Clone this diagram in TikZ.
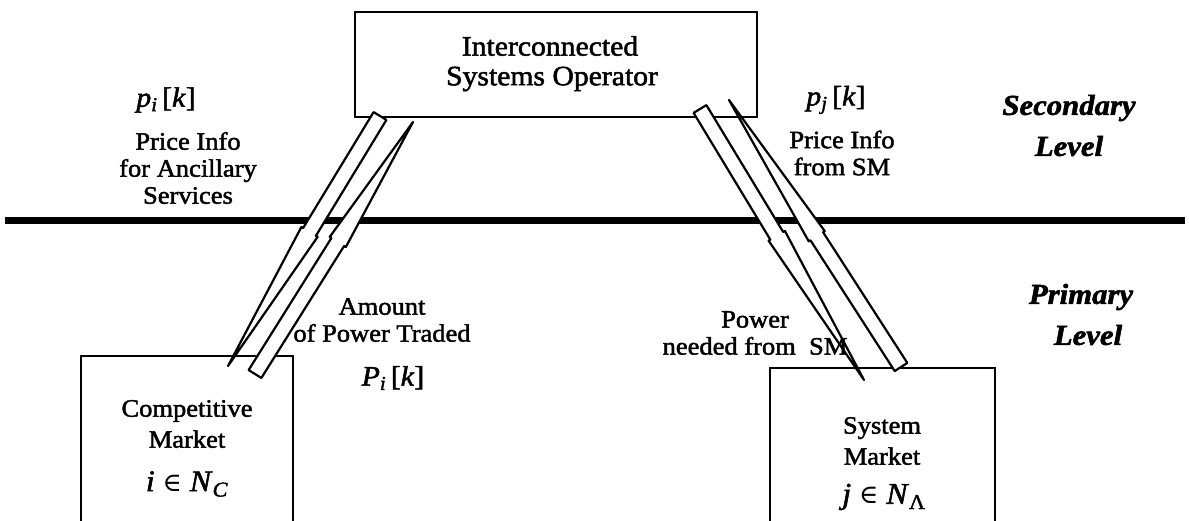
\documentclass[tikz,border=0pt]{standalone}
\usepackage{fontspec}
\setmainfont{Liberation Serif}[FakeStretch=1.06, FakeBold=1.8]
\newfontfamily\symfnt{DejaVu Serif}
\usetikzlibrary{calc}
\tikzset{
  box/.style={draw=black, line width=2pt},
  lbl/.style={inner sep=0pt, align=center, font=\fontsize{25}{27}\selectfont},
  isotxt/.style={inner sep=0pt, align=center, font=\fontsize{28}{33}\selectfont},
  lvl/.style={inner sep=0pt, align=center, font=\fontsize{29}{38}\selectfont\bfseries\itshape},
  mathlbl/.style={inner sep=0pt, font=\fontsize{28}{30}\selectfont},
  bigarr/.style={draw=black, fill=white, line width=2.2pt, line join=round},
  level line/.style={line width=7pt, draw=black}
}
\newcommand{\hollowarrow}[3]{%
  \coordinate (#1#2m) at ($(#1)!#3!(#2)$);
  \draw[bigarr] ($(#1)!7.5pt!90:(#2)$) -- ($(#1#2m)!7.5pt!90:(#2)$) -- ($(#1#2m)!9.5pt!90:(#2)$)
     -- (#2) -- ($(#1#2m)!9.5pt!-90:(#2)$) -- ($(#1#2m)!7.5pt!-90:(#2)$) -- ($(#1)!7.5pt!-90:(#2)$) -- cycle;
}
\newcommand{\mi}[1]{\textit{#1}}
\newcommand{\elem}{{\symfnt\fontsize{26}{30}\selectfont ∈}}
\begin{document}
\begin{tikzpicture}[x=1pt,y=-1pt]
\useasboundingbox (0,0) rectangle (1189,521);
% boxes
\draw[box] (355,12) rectangle (757,117);
\node[isotxt] (iso1) at (550,46) {Interconnected};
\node[isotxt] (iso2) at (552,79) {Systems Operator};
\draw[box] (81,521) -- (81,356) -- (293,356) -- (293,521);
\draw[box] (770,521) -- (770,368) -- (995,368) -- (995,521);
% level line
\draw[level line] (5,221) -- (1185,221);
% arrows
\coordinate (L1t) at (380,116);
\coordinate (L1h) at (228,366);
\coordinate (L2t) at (255,374);
\coordinate (L2h) at (413,122);
\coordinate (R1t) at (700,109);
\coordinate (R1h) at (864,380);
\coordinate (R2t) at (901,367);
\coordinate (R2h) at (729,100);
\hollowarrow{L1t}{L1h}{0.464}
\hollowarrow{L2t}{L2h}{0.524}
\hollowarrow{R1t}{R1h}{0.468}
\hollowarrow{R2t}{R2h}{0.49}
% left labels
\node[mathlbl] (pi) at (166,100) {\mi{p}\textsubscript{\mi{i}}\,[\mi{k}]};
\node[lbl] (pinfo) at (188,168) {Price Info\\for Ancillary\\Services};
\node[lbl] (amt) at (382,320) {Amount\\of Power Traded};
\node[mathlbl] (Pi) at (393,378) {\mi{P}\textsubscript{\mi{i}}\,[\mi{k}]};
% right labels
\node[mathlbl] (pj) at (836,100) {\mi{p}\textsubscript{\mi{j}}\,[\mi{k}]};
\node[lbl] (pjinfo) at (842,153) {Price Info\\from SM};
\node[lbl] (pow) at (755,333) {Power\\needed from~ SM};
% box texts
\node[lbl, font=\fontsize{25}{31}\selectfont] (cm) at (187,424) {Competitive\\Market};
\node[mathlbl, font=\fontsize{30}{30}\selectfont] (cmi) at (187,484) {\mi{i} \elem{} \mi{N}\textsubscript{\mi{C}}};
\node[lbl, font=\fontsize{25}{31}\selectfont] (sm) at (882,441) {System\\Market};
\node[mathlbl, font=\fontsize{30}{30}\selectfont] (smj) at (884,497) {\mi{j} \elem{} \mi{N}\textsubscript{Λ}};
% level labels
\node[lvl] (sec1) at (1069,108) {Secondary};
\node[lvl] (sec2) at (1069,146) {Level};
\node[lvl] (pri1) at (1081,297) {Primary};
\node[lvl] (pri2) at (1088,335) {Level};
\end{tikzpicture}
\end{document}
